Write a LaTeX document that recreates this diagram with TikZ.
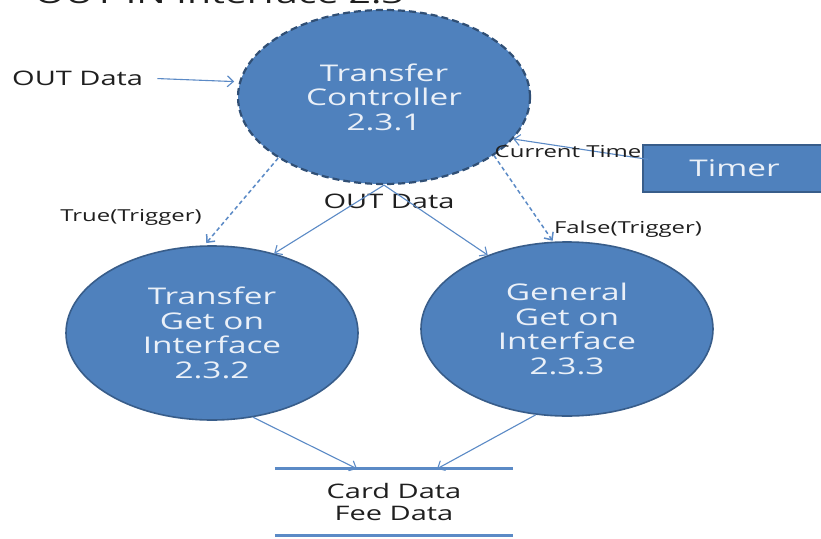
\documentclass[tikz,border=0pt]{standalone}
\usepackage{fontspec}
\setmainfont{Open Sans}[FakeStretch=1.45]
\usetikzlibrary{shapes.geometric,arrows.meta}
\definecolor{fillblue}{HTML}{4F81BD}
\definecolor{edgeblue}{HTML}{385D8A}
\definecolor{arrowblue}{HTML}{5B8AC6}
\definecolor{nodetext}{HTML}{EAF0F8}
\definecolor{labeltext}{HTML}{1F1F1F}
\tikzset{
  proc/.style={ellipse, fill=fillblue, draw=edgeblue, line width=1.6pt,
    minimum width=292pt, minimum height=174pt, inner sep=0pt,
    text=nodetext, align=center, font=\fontsize{23}{24.5}\selectfont},
  lbl/.style={text=labeltext, inner sep=0pt, font=\fontsize{20}{22}\selectfont},
  small/.style={text=labeltext, inner sep=0pt, font=\fontsize{16.5}{18}\selectfont},
  arr/.style={draw=arrowblue, line width=1.1pt, -{Straight Barb[length=6pt,width=11pt]}},
  darr/.style={arr, line width=1.5pt, dash pattern=on 4pt off 3pt},
}
\begin{document}
\begin{tikzpicture}[x=1pt,y=-1pt]
\useasboundingbox (0,0) rectangle (821,538);
\clip (0,0) rectangle (821,538);
\fill[white] (0,0) rectangle (821,538);
% cut-off title
\node[anchor=base west, inner sep=0pt, text=labeltext, font=\fontsize{27}{30}\selectfont] (title) at (2,3.5) {< OUT IN Interface 2.3 >};
% processes
\node[proc, draw=edgeblue!85!black, dash pattern=on 7pt off 4pt, line width=2.2pt] (tc) at (384,97) {Transfer\\Controller\\2.3.1};
\node[proc] (t1) at (212,333) {Transfer\\Get on\\Interface\\2.3.2};
\node[proc] (t2) at (567,329) {General\\Get on\\Interface\\2.3.3};
% timer
\node[rectangle, fill=fillblue, draw=edgeblue, line width=1.6pt, minimum width=183pt, minimum height=47pt,
  text=nodetext, font=\fontsize{23}{24.5}\selectfont] (timer) at (734.5,168.5) {Timer};
% data store
\node[minimum width=238pt, minimum height=66pt, inner sep=0pt, align=center, text=labeltext,
  font=\fontsize{20}{22}\selectfont] (store) at (394,502) {Card Data\\Fee Data};
\draw[arrowblue, line width=3pt] (store.north west) -- (store.north east);
\draw[arrowblue, line width=3pt] (store.south west) -- (store.south east);
% labels
\node[lbl, anchor=west] (outl) at (12,78) {OUT Data};
\node[lbl] (outm) at (389,201) {OUT Data};
\node[small] (truel) at (131,217) {True(Trigger)};
\node[small] (falsel) at (628,229) {False(Trigger)};
% connectors
\draw[arr, shorten <=14pt, shorten >=5pt] (outl.east) -- (tc.174);
\draw[arr, shorten <=-6pt] ([yshift=10pt]timer.west) -- (tc.-18.6);
\node[small] (curl) at (568,152) {Current Time};
\draw[darr, shorten >=3pt] (tc.210.4) -- (t1.95);
\draw[darr, shorten >=1pt] (tc.-28.5) -- (t2.99);
\draw[arr] (tc.south) -- (t1.52.7);
\draw[arr] (tc.south) -- (t2.137.9);
\draw[arr] (t1.-64.2) -- ([xshift=-37pt]store.north);
\draw[arr] (t2.250.3) -- ([xshift=43pt]store.north);
\end{tikzpicture}
\end{document}
